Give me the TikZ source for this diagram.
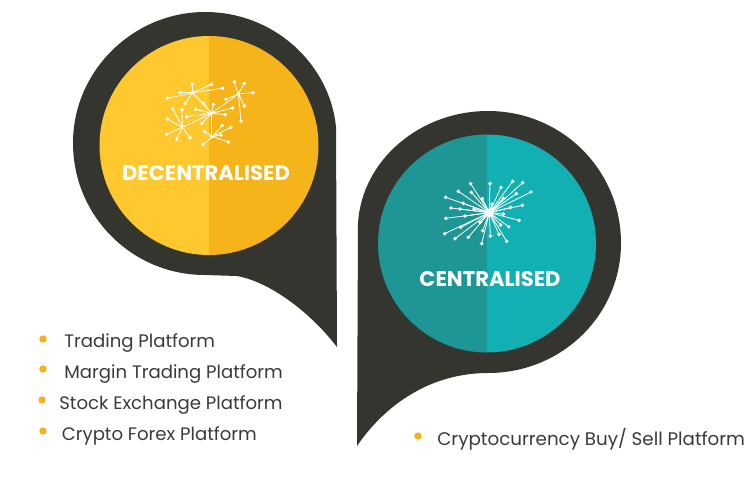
\documentclass[tikz,border=0pt]{standalone}
\usepackage{fontspec}
\setmainfont{Poppins}
\definecolor{pindark}{HTML}{34352F}
\definecolor{yellowa}{HTML}{FEC82E}
\definecolor{yellowb}{HTML}{F4B41A}
\definecolor{teala}{HTML}{1F9696}
\definecolor{tealb}{HTML}{12B0B3}
\definecolor{listtext}{HTML}{3A3A3A}
\definecolor{bulletcol}{HTML}{F6B01E}
\tikzset{
  item/.style={anchor=west, inner sep=0pt, text=listtext, font=\fontsize{10.3}{12}\selectfont},
  bullet/.style={circle, fill=bulletcol, minimum size=4.2pt, inner sep=0pt},
  title/.style={text=white, font=\fontsize{12}{14}\selectfont\bfseries, inner sep=0pt},
  spoke/.style={white, line width=0.45pt},
  tip/.style={circle, fill=white, minimum size=2.2pt, inner sep=0pt},
}
\begin{document}
\begin{tikzpicture}[x=0.02cm, y=-0.02cm]
\useasboundingbox (0,0) rectangle (750,490);

% left pin
\fill [pindark] (337,347) -- (336,127)
  .. controls (330,65) and (275,12) .. (205,12)
  .. controls (133,12) and (73,71) .. (73,143)
  .. controls (73,216) and (132,275) .. (205,275)
  -- (237,276)
  .. controls (270,282) and (310,312) .. (337,347) -- cycle;
\fill [yellowa] (209,36) arc [start angle=-90, end angle=-270, radius=109.5] -- cycle;
\fill [yellowb] (209,36) arc [start angle=-90, end angle=90, radius=109.5] -- cycle;

% right pin
\fill [pindark] (357,446) -- (358,223)
  .. controls (362,160) and (420,111) .. (488,111)
  .. controls (562,111) and (621,170) .. (621,243)
  .. controls (621,315) and (562,373) .. (488,373)
  .. controls (430,373) and (385,405) .. (357,446) -- cycle;
\fill [teala] (487,134.5) arc [start angle=-90, end angle=-270, radius=109] -- cycle;
\fill [tealb] (487,134.5) arc [start angle=-90, end angle=90, radius=109] -- cycle;

% network icon
\begin{scope}[shift={(150,70)}, x=0.00667cm, y=-0.00667cm]
\foreach \hx/\hy/\ends in {
  128/68/{127/43,185/43,218/55,90/67,52/85,106/100},
  185/130/{128/68,137/118,160/100,190/103,248/114,226/134,110/140,155/160,185/200,265/72},
  265/72/{253/36,283/40,309/68,227/88,283/108,273/153},
  97/172/{68/116,96/119,53/147,50/193,80/208,120/203,185/130},
  187/200/{163/184,217/166,242/172,213/195,235/216,160/223}}
{
  \foreach \ex/\ey in \ends {
    \draw [spoke] (\hx,\hy) -- (\ex,\ey);
    \node [tip] at (\ex,\ey) {};
  }
}
\end{scope}

% star icon
\begin{scope}[shift={(430,170)}, x=0.00667cm, y=-0.00667cm]
\foreach \ex/\ey in {122/41,180/41,213/52,248/34,278/38,259/71,303/66,277/106,242/112,220/132,267/151,236/170,212/165,230/214,207/193,181/198,155/221,158/182,115/202,75/206,44/191,92/172,150/157,48/145,105/138,63/114,90/117,132/117,47/82,100/100,85/64,124/67,157/86,186/102,220/85}
{
  \draw [spoke] (178,128) -- (\ex,\ey);
  \node [tip] at (\ex,\ey) {};
}
\node [circle, fill=white, minimum size=5pt, inner sep=0pt] (starhub) at (178,128) {};
\end{scope}

\node (dectitle) at (206,173) [title]{DECENTRALISED};
\node (centitle) at (490,279) [title]{CENTRALISED};

\node (b1) at (43,339) [bullet]{};
\node (b2) at (43,369) [bullet]{};
\node (b3) at (42,400) [bullet]{};
\node (b4) at (43,431) [bullet]{};
\node (b5) at (418,436) [bullet]{};

\node (t1) at (64,343) [item]{Trading Platform};
\node (t2) at (64,374) [item]{Margin Trading Platform};
\node (t3) at (59,405) [item]{Stock Exchange Platform};
\node (t4) at (61.5,436) [item]{Crypto Forex Platform};
\node (t5) at (437,439) [item, font=\fontsize{10.4}{12}\selectfont]{Cryptocurrency Buy/ Sell Platform};
\end{tikzpicture}
\end{document}
